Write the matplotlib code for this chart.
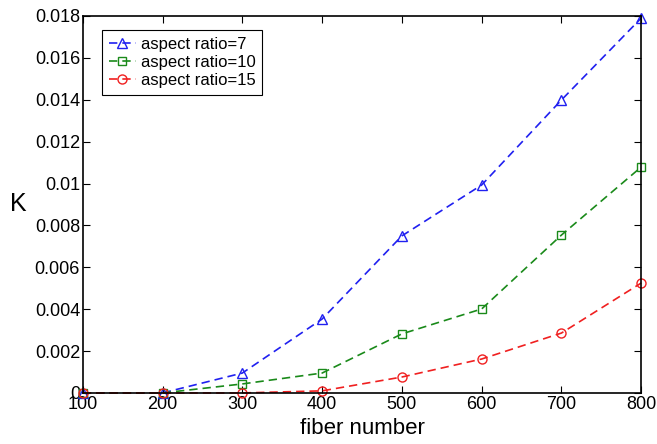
import numpy as np
import matplotlib as mpl
mpl.use('Agg')
import matplotlib.pyplot as plt

plt.rcParams['font.family'] = ['Liberation Sans', 'DejaVu Sans']

fiber = [100, 200, 300, 400, 500, 600, 700, 800]
k_ar7 = [0.0, 0.0, 0.00095, 0.00353, 0.0075, 0.00993, 0.01399, 0.0179]
k_ar10 = [0.0, 0.0, 0.00043, 0.00095, 0.00282, 0.00401, 0.00754, 0.01079]
k_ar15 = [0.0, 0.0, 0.0, 0.0001, 0.00076, 0.00162, 0.00286, 0.00525]
labels = ['aspect ratio=7', 'aspect ratio=10', 'aspect ratio=15']

fig = plt.figure(figsize=(6.57, 4.44), dpi=100)
ax = fig.add_axes([0.126, 0.115, 0.85, 0.849])

ax.plot(fiber, k_ar7, '--', color='#2020f0', marker='^', markersize=7,
        markerfacecolor='none', linewidth=1.2, dashes=(5, 3), label=labels[0], clip_on=False)
ax.plot(fiber, k_ar10, '--', color='#1a8a1a', marker='s', markersize=6,
        markerfacecolor='none', linewidth=1.2, dashes=(5, 3), label=labels[1], clip_on=False)
ax.plot(fiber, k_ar15, '--', color='#f02020', marker='o', markersize=6.5,
        markerfacecolor='none', linewidth=1.2, dashes=(5, 3), label=labels[2], clip_on=False)

ax.set_xlim(100, 800)
ax.set_ylim(0, 0.018)
ax.set_xticks(fiber)
ax.set_yticks(np.arange(0, 0.0181, 0.002))
ax.set_yticklabels(['0', '0.002', '0.004', '0.006', '0.008', '0.01',
                    '0.012', '0.014', '0.016', '0.018'])
ax.tick_params(direction='in', top=True, right=True, labelsize=13, length=5, pad=2)
for s in ax.spines.values():
    s.set_linewidth(1.2)

ax.set_xlabel('fiber number', fontsize=16, labelpad=4)
ax.set_ylabel('K', fontsize=18, rotation=0, labelpad=10)
ax.yaxis.set_label_coords(-0.115, 0.47)

leg = ax.legend(loc='upper left', fontsize=12, fancybox=False, framealpha=1,
                edgecolor='black', handlelength=1.6, handletextpad=0.3,
                borderpad=0.4, labelspacing=0.2, bbox_to_anchor=(0.02, 0.985))
leg.get_frame().set_linewidth(0.8)

fig.savefig('out.png', dpi=100)
